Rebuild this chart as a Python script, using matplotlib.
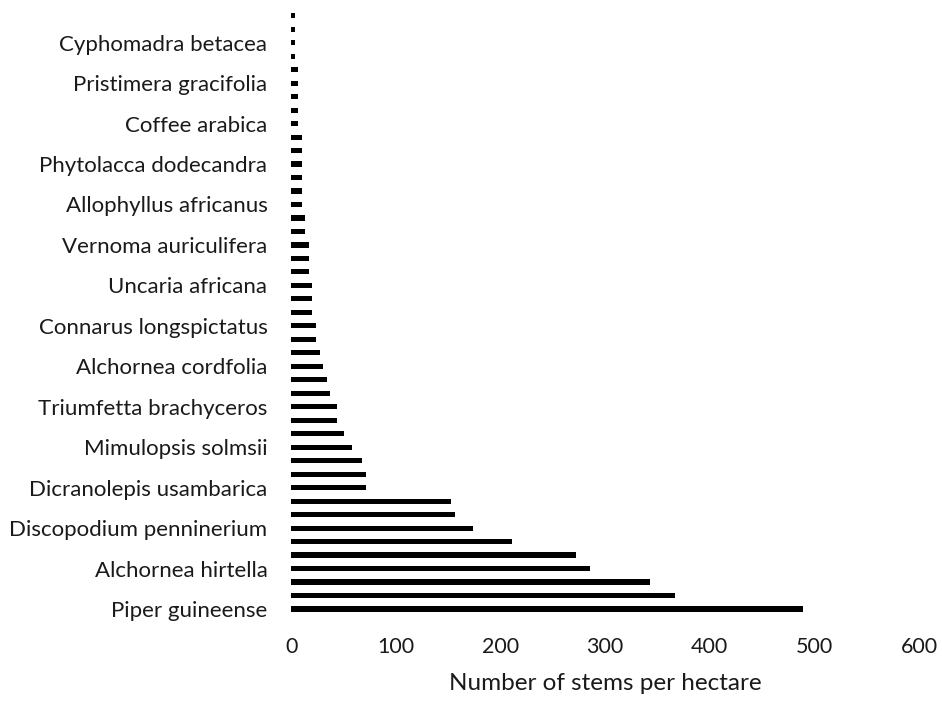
import matplotlib
matplotlib.use("Agg")
import matplotlib.pyplot as plt

# Stem density per species, listed from the bottom bar upwards
stems_per_ha = [
    489.6, 367.2, 343.4, 285.6, 272.0, 210.8, 173.4, 156.4, 153.0,
    71.4, 71.4, 68.0, 57.8, 51.0, 44.2, 44.2,
    37.4, 34.0, 30.6, 27.2, 23.8, 23.8,
    20.4, 20.4, 20.4, 17.0, 17.0, 17.0, 13.6, 13.6,
    10.2, 10.2, 10.2, 10.2, 10.2, 10.2,
    6.8, 6.8, 6.8, 6.8, 6.8,
    3.4, 3.4, 3.4, 3.4,
]

# Species named on the axis (every third bar, from the bottom)
species_labels = [
    "Piper guineense", "Alchornea hirtella", "Discopodium penninerium",
    "Dicranolepis usambarica", "Mimulopsis solmsii", "Triumfetta brachyceros",
    "Alchornea cordfolia", "Connarus longspictatus", "Uncaria africana",
    "Vernoma auriculifera", "Allophyllus africanus", "Phytolacca dodecandra",
    "Coffee arabica", "Pristimera gracifolia", "Cyphomadra betacea",
]
label_step = 3

x_ticks = [0, 100, 200, 300, 400, 500, 600]
x_title = "Number of stems per hectare"

plt.rcParams["font.family"] = ["Lato", "DejaVu Sans"]

fig = plt.figure(figsize=(9.42, 7.02), dpi=100)
ax = fig.add_axes([0.309, 0.1229, 0.6666, 0.8643])

positions = list(range(len(stems_per_ha)))
ax.barh(positions, stems_per_ha, height=0.38, color="black")

ax.set_ylim(-0.5, len(stems_per_ha) - 0.5)
ax.set_xlim(x_ticks[0], x_ticks[-1])

ax.set_yticks(positions[::label_step][:len(species_labels)])
ax.set_yticklabels(species_labels, fontsize=16, color="#1a1a1a")
ax.set_xticks(x_ticks)
ax.set_xticklabels([str(t) for t in x_ticks], fontsize=15.5, color="#1a1a1a")

ax.tick_params(axis="y", length=0, pad=17)
ax.tick_params(axis="x", length=0, pad=15)
ax.set_xlabel(x_title, fontsize=17.5, color="#1a1a1a", labelpad=12)

for side in ("top", "right", "bottom", "left"):
    ax.spines[side].set_visible(False)

fig.savefig("out.png", dpi=100)
